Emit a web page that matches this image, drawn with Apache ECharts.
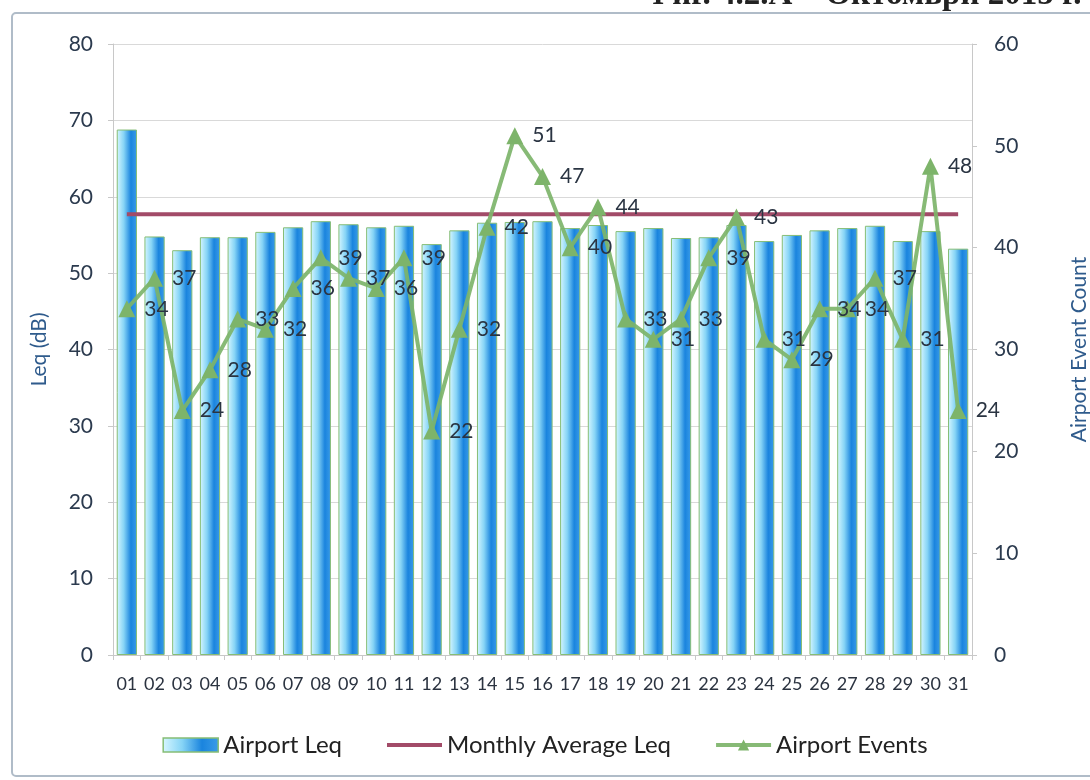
<!DOCTYPE html>
<html>
<head>
<meta charset="utf-8">
<script src="https://cdn.jsdelivr.net/npm/echarts@6/dist/echarts.min.js"></script>
<style>
	html, body { margin: 0; padding: 0; background: #fff; }
	#chart { width: 1090px; height: 780px; }
</style>
</head>
<body>
<div id="chart"></div>
<script>
	// дни от месеца
	var days = ['01', '02', '03', '04', '05', '06', '07', '08', '09', '10', '11', '12', '13', '14', '15', '16',
		'17', '18', '19', '20', '21', '22', '23', '24', '25', '26', '27', '28', '29', '30', '31'];
	// Airport Leq (dB)
	var airportLeq = [68.8, 54.8, 53.0, 54.7, 54.7, 55.4, 56.0, 56.8, 56.4, 56.0, 56.2, 53.8, 55.6, 56.6, 56.7, 56.8,
		55.9, 56.3, 55.5, 55.9, 54.6, 54.7, 56.3, 54.2, 55.0, 55.6, 55.9, 56.2, 54.2, 55.5, 53.2];
	// Monthly Average Leq
	var monthlyAvg = [57.7, 57.7, 57.7, 57.7, 57.7, 57.7, 57.7, 57.7, 57.7, 57.7, 57.7, 57.7, 57.7, 57.7, 57.7, 57.7,
		57.7, 57.7, 57.7, 57.7, 57.7, 57.7, 57.7, 57.7, 57.7, 57.7, 57.7, 57.7, 57.7, 57.7, 57.7];
	// Airport Events
	var airportEvents = [34, 37, 24, 28, 33, 32, 36, 39, 37, 36, 39, 22, 32, 42, 51, 47,
		40, 44, 33, 31, 33, 39, 43, 31, 29, 34, 34, 37, 31, 48, 24];
	var leqTicks = [0, 80, 10];
	var countTicks = [0, 60, 10];

	var font = 'Lato, "Open Sans", sans-serif';
	var chart = echarts.init(document.getElementById('chart'));

	var barColor = new echarts.graphic.LinearGradient(0, 0, 1, 0, [
		{ offset: 0, color: '#d8f7ff' },
		{ offset: 0.35, color: '#86d4f6' },
		{ offset: 0.7, color: '#1a84de' },
		{ offset: 1, color: '#3b9ce8' }
	]);

	var option = {
		backgroundColor: '#fff',
		textStyle: { fontFamily: font },
		graphic: [
			{ //рамка
				type: 'rect',
				shape: { x: 12, y: 13, width: 1090, height: 763, r: 4 },
				style: { fill: 'none', stroke: '#b0bcc8', lineWidth: 2 }
			},
			{ //заглавие - отрязано горе
				type: 'text',
				x: 644, y: -21,
				style: {
					text: 'Фиг. 4.2.А – Октомври 2015 г.',
					font: 'bold 33px "Liberation Serif", "DejaVu Serif", serif',
					fill: '#222'
				}
			}
		],
		grid: { left: 113, right: 118, top: 44, bottom: 125, outerBoundsMode: 'none', containLabel: false },
		legend: {
			bottom: 18,
			left: 'center',
			itemWidth: 55,
			itemHeight: 14,
			itemGap: 43,
			textStyle: { fontSize: 24, color: '#222', fontFamily: font },
			data: [
				{ name: 'Airport Leq', icon: 'rect', itemStyle: { borderColor: '#86bd76', borderWidth: 1.5 } },
				{ name: 'Monthly Average Leq', itemStyle: { opacity: 0 }, lineStyle: { width: 4 } },
				{ name: 'Airport Events', lineStyle: { width: 4 } }
			]
		},
		xAxis: {
			type: 'category',
			data: days,
			axisLine: { lineStyle: { color: '#c8c8c8' } },
			axisTick: { show: true, lineStyle: { color: '#c8c8c8' } },
			axisLabel: { fontSize: 18, color: '#2b3340', margin: 20, interval: 0 }
		},
		yAxis: [{
			type: 'value',
			min: leqTicks[0], max: leqTicks[1], interval: leqTicks[2],
			name: 'Leq (dB)',
			nameLocation: 'middle',
			nameRotate: 90,
			nameGap: 63,
			nameTextStyle: { fontSize: 21, color: '#2f5b8c' },
			axisLine: { show: true, lineStyle: { color: '#c8c8c8' } },
			axisTick: { show: true, lineStyle: { color: '#c8c8c8' } },
			axisLabel: { fontSize: 21, color: '#2b3a4e', margin: 20 },
			splitLine: { lineStyle: { color: '#d9d9d9' } }
		}, {
			type: 'value',
			min: countTicks[0], max: countTicks[1], interval: countTicks[2],
			name: 'Airport Event Count',
			nameLocation: 'middle',
			nameRotate: 90,
			nameGap: 97,
			nameTextStyle: { fontSize: 21, color: '#2f5b8c' },
			axisLine: { show: true, lineStyle: { color: '#c8c8c8' } },
			axisTick: { show: true, lineStyle: { color: '#c8c8c8' } },
			axisLabel: { fontSize: 21, color: '#2b3a4e', margin: 22 },
			splitLine: { show: false }
		}],
		series: [{
			name: 'Airport Leq',
			type: 'bar',
			yAxisIndex: 0,
			data: airportLeq,
			barCategoryGap: '27%',
			itemStyle: { color: barColor, borderColor: '#86bd76', borderWidth: 1 },
			z: 2
		}, {
			name: 'Monthly Average Leq',
			type: 'line',
			yAxisIndex: 0,
			data: monthlyAvg,
			symbol: 'none',
			color: '#a24b68',
			lineStyle: { width: 4, color: '#a24b68' },
			z: 3
		}, {
			name: 'Airport Events',
			type: 'line',
			yAxisIndex: 1,
			data: airportEvents,
			symbol: 'triangle',
			symbolSize: 17,
			color: '#7db46a',
			lineStyle: { width: 4, color: '#7db46a', opacity: 0.92 },
			itemStyle: { color: '#7db46a' },
			label: {
				show: true,
				position: 'right',
				distance: 9,
				fontSize: 21,
				color: '#2a3442',
				fontFamily: font
			},
			z: 4
		}]
	};

	chart.setOption(option);
	window.onresize = chart.resize;
</script>
</body>
</html>
